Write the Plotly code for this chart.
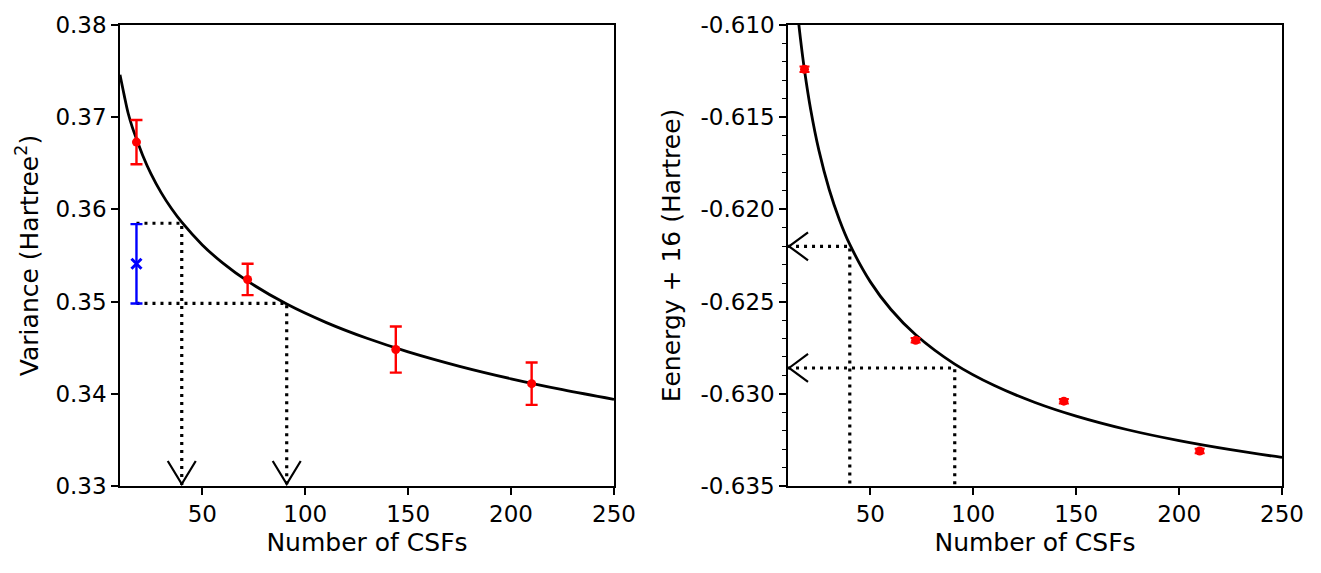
import plotly.graph_objects as go

# ---- data ----
csfs = [18, 72, 144, 210]
variance = [0.3673, 0.3524, 0.3448, 0.3411]
variance_err = [0.0024, 0.0017, 0.0025, 0.0023]

extrap_csfs = [18]
extrap_variance = [0.3541]
extrap_variance_err = [0.0043]

energy = [-0.6124, -0.6271, -0.6304, -0.6331]
energy_err = [0.00015, 0.00012, 0.00012, 0.00012]

fit_csfs = [10, 12, 14, 16, 18, 21, 25, 30, 35, 40, 50, 60, 72, 91, 110, 130, 150, 175, 200, 225, 250]
variance_fit = [0.37460, 0.37242, 0.37040, 0.36890, 0.36766, 0.36588, 0.36388, 0.36182, 0.36009, 0.35861,
                0.35615, 0.35417, 0.35222, 0.34973, 0.34775, 0.34602, 0.34455, 0.34298, 0.34163, 0.34045, 0.33940]
energy_fit = [-0.60264, -0.60600, -0.60861, -0.61071, -0.61245, -0.61458, -0.61680, -0.61892, -0.62057, -0.62190,
              -0.62393, -0.62543, -0.62680, -0.62839, -0.62954, -0.63047, -0.63121, -0.63195, -0.63254, -0.63303, -0.63345]

target_csfs = [40, 91]
variance_levels = [0.3585, 0.3498]
energy_levels = [-0.6220, -0.6286]

x_range = [10, 250]
x_ticks = [50, 100, 150, 200, 250]
var_ticks = [0.33, 0.34, 0.35, 0.36, 0.37, 0.38]
energy_ticks = [-0.635, -0.630, -0.625, -0.620, -0.615, -0.610]

FONT = "DejaVu Sans"
TICK_SIZE = 23
TITLE_SIZE = 25
DOT = "3px,5px"

fig = go.Figure()

# ---- left panel ----
fig.add_trace(go.Scatter(x=fit_csfs, y=variance_fit, mode="lines", line=dict(color="black", width=2.8, shape="spline"),
                         xaxis="x", yaxis="y", hoverinfo="skip"))
for t, lvl in zip(target_csfs, variance_levels):
    fig.add_trace(go.Scatter(x=[extrap_csfs[0], t, t], y=[lvl, lvl, var_ticks[0]], mode="lines",
                             line=dict(color="black", width=3.2, dash=DOT), xaxis="x", yaxis="y"))
fig.add_trace(go.Scatter(x=csfs, y=variance, mode="markers",
                         marker=dict(color="red", size=9),
                         error_y=dict(type="data", array=variance_err, color="red", thickness=2.4, width=6),
                         xaxis="x", yaxis="y"))
fig.add_trace(go.Scatter(x=extrap_csfs, y=extrap_variance, mode="markers",
                         marker=dict(color="blue", size=10, symbol="x-thin", line=dict(color="blue", width=3)),
                         error_y=dict(type="data", array=extrap_variance_err, color="blue", thickness=2.4, width=6),
                         xaxis="x", yaxis="y"))

# ---- right panel ----
fig.add_trace(go.Scatter(x=fit_csfs, y=energy_fit, mode="lines", line=dict(color="black", width=2.8, shape="spline"),
                         xaxis="x2", yaxis="y2", hoverinfo="skip"))
for t, lvl in zip(target_csfs, energy_levels):
    fig.add_trace(go.Scatter(x=[x_range[0], t, t], y=[lvl, lvl, energy_ticks[0]], mode="lines",
                             line=dict(color="black", width=3.2, dash=DOT), xaxis="x2", yaxis="y2"))
fig.add_trace(go.Scatter(x=csfs, y=energy, mode="markers",
                         marker=dict(color="red", size=9),
                         error_y=dict(type="data", array=energy_err, color="red", thickness=2, width=5),
                         xaxis="x2", yaxis="y2"))

# ---- open arrowheads (pixel-sized, anchored at data positions) ----
shapes = []
for t in target_csfs:
    shapes.append(dict(type="path", xref="x", yref="y", xsizemode="pixel", ysizemode="pixel",
                       xanchor=t, yanchor=var_ticks[0], path="M-14,25 L0,2 L14,25",
                       line=dict(color="black", width=2.2)))
for lvl in energy_levels:
    shapes.append(dict(type="path", xref="x2", yref="y2", xsizemode="pixel", ysizemode="pixel",
                       xanchor=x_range[0], yanchor=lvl, path="M20,14 L1,0 L20,-14",
                       line=dict(color="black", width=2.2)))

axis_common = dict(showline=True, linecolor="black", linewidth=1.5, mirror=True, ticks="outside",
                   ticklen=7, tickwidth=1.5, tickcolor="black", showgrid=False, zeroline=False,
                   tickfont=dict(family=FONT, size=TICK_SIZE, color="black"))

fig.update_layout(
    width=1321, height=573,
    margin=dict(l=120, r=39, t=23, b=87),
    paper_bgcolor="white", plot_bgcolor="white",
    showlegend=False,
    font=dict(family=FONT, color="black"),
    shapes=shapes,
    xaxis=dict(axis_common, domain=[0, 0.4251], range=x_range, tickvals=x_ticks, anchor="y",
               title=dict(text="Number of CSFs", font=dict(family=FONT, size=TITLE_SIZE), standoff=7)),
    yaxis=dict(axis_common, domain=[0, 1], range=[var_ticks[0], var_ticks[-1]], tickvals=var_ticks,
               ticktext=[f"{v:.2f}" for v in var_ticks], anchor="x",
               title=dict(text="Variance (Hartree<sup>2</sup>)", font=dict(family=FONT, size=TITLE_SIZE), standoff=10)),
    xaxis2=dict(axis_common, domain=[0.5749, 1], range=x_range, tickvals=x_ticks, anchor="y2",
                title=dict(text="Number of CSFs", font=dict(family=FONT, size=TITLE_SIZE), standoff=7)),
    yaxis2=dict(axis_common, domain=[0, 1], range=[energy_ticks[0], energy_ticks[-1]], tickvals=energy_ticks,
                ticktext=[f"{v:.3f}" for v in energy_ticks], anchor="x2",
                minor=dict(ticks="outside", ticklen=4, tickwidth=1.2, tickcolor="black", dtick=0.001, showgrid=False),
                title=dict(text="Eenergy + 16 (Hartree)", font=dict(family=FONT, size=TITLE_SIZE), standoff=13)),
)

fig.write_html("out.html")
